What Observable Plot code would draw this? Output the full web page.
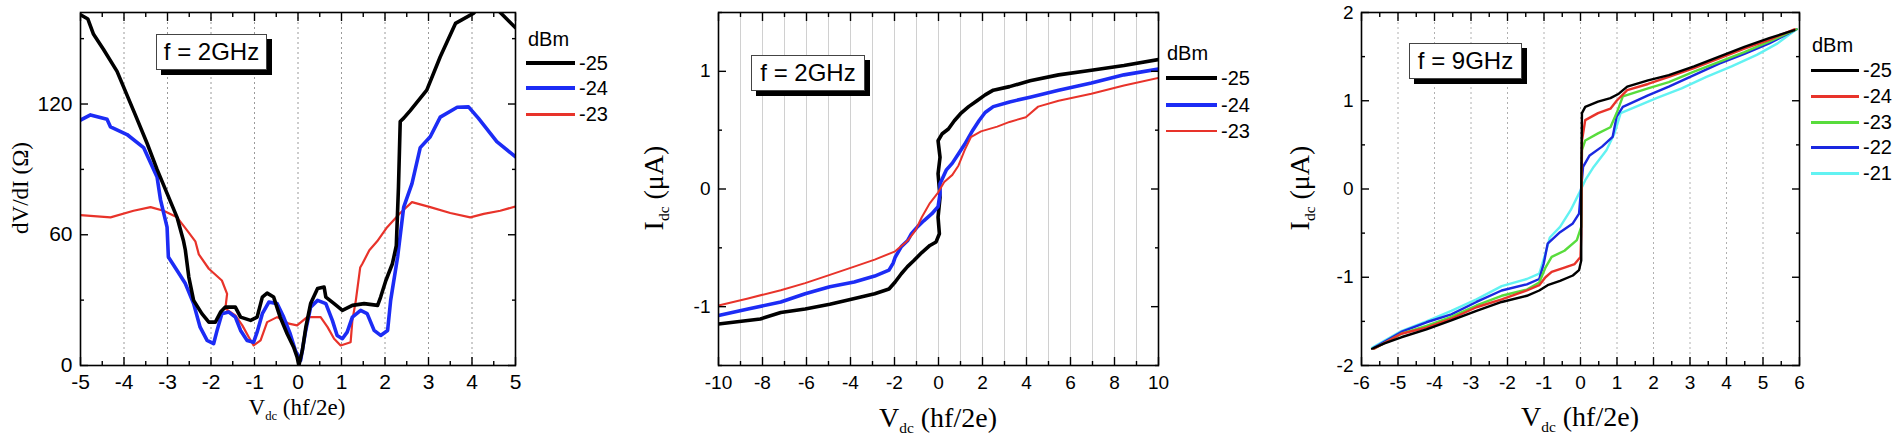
<!DOCTYPE html>
<html>
<head>
<meta charset="utf-8">
<script src="https://cdn.jsdelivr.net/npm/d3@7"></script>
<script src="https://cdn.jsdelivr.net/npm/@observablehq/plot@0.6"></script>
<style>
  body { margin: 0; background: white; }
  #chart { position: relative; width: 1904px; height: 448px; background: white; overflow: hidden; }
  #chart svg { position: absolute; top: 0; }
  .ov { position: absolute; white-space: nowrap; line-height: 1; color: #000; }
  .ttl { font-family: "Liberation Serif", "Times New Roman", serif; }
  .sub { font-size: 0.55em; position: relative; top: 0.42em; }
  .box { position: absolute; background: white; border: 1px solid #444; box-shadow: 5px 5px 0 #000;
         font-family: "Liberation Sans", Arial, sans-serif; font-size: 24px; display: flex;
         align-items: center; justify-content: center; box-sizing: border-box; }
  .lg { position: absolute; font-family: "Liberation Sans", Arial, sans-serif; font-size: 20px; line-height: 1; white-space: nowrap; }
  .lgline { position: absolute; }
</style>
</head>
<body>
<div id="chart"></div>
<script>
// ---------------- DATA ----------------
const seriesLabels3 = ["-25", "-24", "-23"];
const seriesLabels5 = ["-25", "-24", "-23", "-22", "-21"];

// Panel 1: dV/dI (Ohm) vs Vdc (hf/2e), f = 2GHz
const p1_m25 = [[-5,161],[-4.83,159],[-4.70,152],[-4.47,145],[-4.16,135],[-3.74,115],[-3.47,102],[-3.24,90],[-3.01,79],[-2.78,68],[-2.63,57],[-2.59,53],[-2.51,40.6],[-2.40,29.9],[-2.21,23.8],[-2.05,19.9],[-1.90,19.9],[-1.78,24.5],[-1.67,26.8],[-1.44,26.8],[-1.32,22.2],[-1.09,20.7],[-0.94,22.2],[-0.82,31.4],[-0.71,33.2],[-0.56,31.4],[-0.41,22.2],[-0.25,14.6],[-0.10,8.4],[-0.02,3.8],[0.02,0],[0.10,6.9],[0.18,17.6],[0.29,28.4],[0.45,35.3],[0.60,36],[0.64,31.4],[0.83,28.4],[1.02,25.3],[1.25,27.6],[1.52,28.4],[1.83,27.6],[1.90,31.4],[2.02,39],[2.17,46.7],[2.26,55],[2.31,82],[2.35,112],[2.43,113.5],[2.58,117],[2.96,126.4],[3.27,141.7],[3.62,157],[4.04,161.7],[4.4,170],[4.65,162],[5,155]];
const p1_m24 = [[-5,112.6],[-4.77,115],[-4.39,113],[-4.31,109.5],[-3.93,106],[-3.55,100],[-3.39,93],[-3.24,86.5],[-3.16,76],[-3.01,63.5],[-2.98,49.8],[-2.78,43.6],[-2.59,37.6],[-2.40,28.4],[-2.25,17.6],[-2.09,11.5],[-1.94,10],[-1.86,16.1],[-1.75,23.8],[-1.59,24.5],[-1.44,22.2],[-1.32,16.1],[-1.17,11.5],[-1.02,10.7],[-0.94,15.3],[-0.82,23.8],[-0.67,29.1],[-0.48,28.4],[-0.33,22.2],[-0.18,14.6],[-0.06,6.9],[0.06,2.3],[0.17,15.3],[0.29,26.8],[0.45,29.9],[0.64,28.4],[0.79,20.7],[0.90,13.8],[1.02,12.3],[1.13,15.3],[1.25,22.2],[1.44,25.3],[1.59,23.8],[1.75,16.1],[1.90,13.8],[2.06,16.1],[2.13,29.9],[2.29,49.8],[2.43,72.7],[2.62,83.5],[2.81,100],[3.04,105],[3.27,114],[3.66,118.5],[3.92,118.7],[4.15,113.4],[4.57,102.7],[5,95.8]];
const p1_m23 = [[-5,69],[-4.31,68],[-3.78,71],[-3.39,72.7],[-3.09,71],[-2.78,68],[-2.55,62],[-2.36,57],[-2.28,51],[-2.05,44.4],[-1.75,39],[-1.63,32.9],[-1.67,26.1],[-1.44,23],[-1.28,18.4],[-1.13,13],[-1.02,9.2],[-0.86,11.5],[-0.71,19.9],[-0.48,22.2],[-0.21,19.2],[-0.02,18.4],[0.21,22.2],[0.52,22.2],[0.68,17.6],[0.83,12.3],[0.98,9.2],[1.21,10.7],[1.25,20.7],[1.33,29.9],[1.43,45],[1.48,46.7],[1.64,52.9],[1.82,57],[2.05,63.5],[2.35,70],[2.62,75],[3.04,72.7],[3.50,70],[3.96,68],[4.27,69.6],[4.65,71],[5,73]];

// Panel 2: Idc (uA) vs Vdc (hf/2e), f = 2GHz
const p2_m25 = [[-10,-1.148],[-8.1,-1.105],[-7.17,-1.05],[-6.06,-1.02],[-4.94,-0.98],[-4.01,-0.94],[-2.9,-0.89],[-2.25,-0.85],[-1.97,-0.79],[-1.69,-0.72],[-1.41,-0.66],[-1.13,-0.61],[-0.76,-0.54],[-0.39,-0.48],[-0.11,-0.45],[0.04,-0.38],[-0.02,-0.24],[0.07,-0.07],[-0.02,0.13],[0.07,0.27],[-0.02,0.41],[0.17,0.47],[0.45,0.51],[0.72,0.58],[1.0,0.64],[1.37,0.70],[1.75,0.75],[2.12,0.80],[2.49,0.84],[3.23,0.87],[4.16,0.92],[5.46,0.97],[6.95,1.01],[8.43,1.05],[10,1.10]];
const p2_m24 = [[-10,-1.075],[-8.66,-1.02],[-7.17,-0.96],[-6.06,-0.89],[-4.94,-0.83],[-3.83,-0.79],[-2.9,-0.74],[-2.25,-0.69],[-2.06,-0.63],[-1.97,-0.58],[-1.69,-0.49],[-1.41,-0.44],[-1.23,-0.38],[-0.95,-0.32],[-0.67,-0.27],[-0.30,-0.21],[-0.02,-0.15],[0.07,-0.04],[0.07,0.045],[0.35,0.16],[0.63,0.22],[0.91,0.30],[1.19,0.38],[1.56,0.50],[1.84,0.58],[2.12,0.65],[2.49,0.70],[3.23,0.74],[4.16,0.78],[5.46,0.84],[6.95,0.90],[8.43,0.97],[10,1.02]];
const p2_m23 = [[-10,-0.99],[-8.66,-0.93],[-7.17,-0.86],[-6.06,-0.80],[-4.94,-0.73],[-3.83,-0.66],[-2.9,-0.60],[-1.97,-0.53],[-1.41,-0.44],[-1.04,-0.35],[-0.76,-0.24],[-0.39,-0.12],[-0.02,-0.03],[0.26,0.06],[0.63,0.12],[0.91,0.20],[1.19,0.33],[1.47,0.44],[1.93,0.49],[2.67,0.53],[3.23,0.57],[3.97,0.61],[4.53,0.70],[5.46,0.75],[6.95,0.81],[8.43,0.88],[10,0.945]];

// Panel 3: Idc (uA) vs Vdc (hf/2e), f = 9GHz
const p3_m25 = [[-5.71,-1.81],[-5.37,-1.75],[-4.91,-1.68],[-4.22,-1.59],[-3.54,-1.49],[-2.85,-1.38],[-2.16,-1.28],[-1.47,-1.21],[-1.13,-1.15],[-0.90,-1.09],[-0.56,-1.04],[-0.21,-0.98],[-0.04,-0.92],[0.02,-0.81],[0.02,0.02],[0.04,0.86],[0.13,0.93],[0.48,0.99],[0.82,1.03],[1.05,1.08],[1.28,1.16],[1.85,1.23],[2.42,1.29],[3.11,1.39],[3.80,1.50],[4.49,1.61],[5.17,1.71],[5.86,1.80]];
const p3_m24 = [[-5.66,-1.81],[-4.91,-1.64],[-4.22,-1.57],[-3.54,-1.47],[-2.85,-1.34],[-2.16,-1.25],[-1.47,-1.15],[-1.13,-1.09],[-0.96,-1.0],[-0.79,-0.94],[-0.44,-0.89],[-0.16,-0.85],[0,-0.77],[0.02,-0.51],[0.04,0.55],[0.13,0.78],[0.48,0.86],[0.82,0.91],[0.99,1.0],[1.28,1.12],[1.85,1.19],[2.42,1.27],[3.11,1.37],[3.80,1.48],[4.49,1.59],[5.17,1.69],[5.86,1.81]];
const p3_m23 = [[-5.66,-1.81],[-4.91,-1.64],[-4.22,-1.55],[-3.54,-1.45],[-2.85,-1.32],[-2.16,-1.21],[-1.47,-1.14],[-1.13,-1.06],[-0.96,-0.89],[-0.79,-0.77],[-0.44,-0.70],[-0.10,-0.58],[0.02,-0.43],[0.04,0.44],[0.13,0.55],[0.48,0.63],[0.82,0.70],[0.99,0.86],[1.16,1.05],[1.85,1.14],[2.42,1.21],[3.11,1.33],[3.80,1.44],[4.49,1.55],[5.17,1.67],[5.92,1.81]];
const p3_m22 = [[-5.66,-1.80],[-4.91,-1.62],[-4.22,-1.51],[-3.54,-1.42],[-2.85,-1.28],[-2.16,-1.15],[-1.47,-1.08],[-1.13,-1.02],[-1.01,-0.85],[-0.90,-0.62],[-0.56,-0.49],[-0.21,-0.39],[-0.04,-0.28],[0.02,0.02],[0.07,0.25],[0.25,0.38],[0.59,0.48],[0.88,0.59],[0.99,0.82],[1.16,0.93],[1.85,1.06],[2.42,1.16],[3.11,1.29],[3.80,1.42],[4.49,1.53],[5.17,1.65],[5.92,1.81]];
const p3_m21 = [[-5.71,-1.80],[-4.91,-1.61],[-4.22,-1.50],[-3.54,-1.38],[-2.85,-1.25],[-2.16,-1.10],[-1.47,-1.02],[-1.13,-0.96],[-0.96,-0.73],[-0.84,-0.55],[-0.56,-0.43],[-0.27,-0.24],[-0.04,-0.05],[0.13,0.10],[0.36,0.25],[0.71,0.44],[0.93,0.63],[1.10,0.86],[1.51,0.93],[2.08,1.03],[2.77,1.14],[3.45,1.27],[4.14,1.39],[4.83,1.52],[5.40,1.65],[5.92,1.81]];

// Tick values
const p1xMajor = [-5,-4,-3,-2,-1,0,1,2,3,4,5];
const p1xMinor = [-4.5,-3.5,-2.5,-1.5,-0.5,0.5,1.5,2.5,3.5,4.5];
const p1yMajor = [0,60,120];
const p1yMinor = [30,90,150];
const p1grid = [-4,-3,-2,-1,0,1,2,3,4];

const p2xMajor = [-10,-8,-6,-4,-2,0,2,4,6,8,10];
const p2xMinor = [-9,-7,-5,-3,-1,1,3,5,7,9];
const p2yMajor = [-1,0,1];
const p2yMinor = [-1.5,-0.5,0.5,1.5];
const p2grid = [-9,-8,-7,-6,-5,-4,-3,-2,-1,0,1,2,3,4,5,6,7,8,9];

const p3xMajor = [-6,-5,-4,-3,-2,-1,0,1,2,3,4,5,6];
const p3xMinor = [-5.5,-4.5,-3.5,-2.5,-1.5,-0.5,0.5,1.5,2.5,3.5,4.5,5.5];
const p3yMajor = [-2,-1,0,1,2];
const p3yMinor = [-1.5,-0.5,0.5,1.5];
const p3grid = [-5,-4,-3,-2,-1,0,1,2,3,4,5];

// Colors
const colBlack = "#000000";
const colBlue = "#1c2cf5";
const colRed = "#e8332a";
const colGreen = "#58dc3c";
const colCyan = "#62f2f2";
const colBlue3 = "#1a28e0";

// ---------------- DRAW ----------------
const chart = document.getElementById("chart");

function frameAxes(xMajor, xMinor, yMajor, yMinor, fontSize, padX, padY) {
  const tk = {stroke: "#000", strokeWidth: 1.4, fill: "none", label: null};
  return [
    Plot.axisX({...tk, ticks: xMajor, anchor: "bottom", tickSize: -8}),
    Plot.axisX({...tk, ticks: xMinor, anchor: "bottom", tickSize: -4}),
    Plot.axisX({...tk, ticks: xMajor, anchor: "top", tickSize: -8}),
    Plot.axisX({...tk, ticks: xMinor, anchor: "top", tickSize: -4}),
    Plot.axisY({...tk, ticks: yMajor, anchor: "left", tickSize: -8}),
    Plot.axisY({...tk, ticks: yMinor, anchor: "left", tickSize: -4}),
    Plot.axisY({...tk, ticks: yMajor, anchor: "right", tickSize: -8}),
    Plot.axisY({...tk, ticks: yMinor, anchor: "right", tickSize: -4}),
    Plot.axisX({ticks: xMajor, anchor: "bottom", tickSize: 0, tickPadding: padX, tickFormat: d => String(d), label: null, fill: "#000", fontSize}),
    Plot.axisY({ticks: yMajor, anchor: "left", tickSize: 0, tickPadding: padY, tickFormat: d => String(d), label: null, fill: "#000", fontSize}),
    Plot.frame({stroke: "#000", strokeWidth: 1.6})
  ];
}

function panel({left, width, mL, mR, xDomain, yDomain, grid, gridDash, gridColor, series, axes}) {
  const svg = Plot.plot({
    width, height: 448,
    marginLeft: mL, marginRight: mR, marginTop: 12, marginBottom: 83,
    x: {domain: xDomain},
    y: {domain: yDomain},
    style: {background: "transparent", fontFamily: "'Liberation Sans', Arial, sans-serif", color: "#000", overflow: "visible"},
    marks: [
      Plot.gridX({ticks: grid, stroke: gridColor, strokeOpacity: 1, strokeWidth: 1, strokeDasharray: gridDash}),
      ...series.map(s => Plot.line(s.data, {x: d => d[0], y: d => d[1], stroke: s.color, strokeWidth: s.w, clip: true, strokeLinejoin: "round"})),
      ...axes
    ]
  });
  svg.style.left = left + "px";
  chart.appendChild(svg);
}

panel({left: 0, width: 520, mL: 80, mR: 5, xDomain: [-5, 5], yDomain: [0, 162],
  grid: p1grid, gridDash: "2,3", gridColor: "#9a9a9a",
  series: [{data: p1_m23, color: colRed, w: 2.2}, {data: p1_m24, color: colBlue, w: 3.6}, {data: p1_m25, color: colBlack, w: 3.6}],
  axes: frameAxes(p1xMajor, p1xMinor, p1yMajor, p1yMinor, 21, 9, 8)});

panel({left: 630, width: 535, mL: 88, mR: 7, xDomain: [-10, 10], yDomain: [-1.5, 1.5],
  grid: p2grid, gridDash: null, gridColor: "#d0d0d0",
  series: [{data: p2_m25, color: colBlack, w: 3.6}, {data: p2_m24, color: colBlue, w: 3.6}, {data: p2_m23, color: colRed, w: 2}],
  axes: frameAxes(p2xMajor, p2xMinor, p2yMajor, p2yMinor, 19, 10, 8)});

panel({left: 1290, width: 515, mL: 71, mR: 6, xDomain: [-6, 6], yDomain: [-2, 2],
  grid: p3grid, gridDash: "2,3", gridColor: "#b0b0b0",
  series: [{data: p3_m21, color: colCyan, w: 2.4}, {data: p3_m22, color: colBlue3, w: 2.4}, {data: p3_m23, color: colGreen, w: 2.4}, {data: p3_m24, color: colRed, w: 2.4}, {data: p3_m25, color: colBlack, w: 2.4}],
  axes: frameAxes(p3xMajor, p3xMinor, p3yMajor, p3yMinor, 19, 10, 8)});

// ---------------- TEXT OVERLAYS ----------------
function addDiv(cls, html, css) {
  const d = document.createElement("div");
  d.className = cls;
  d.innerHTML = html;
  Object.assign(d.style, css);
  chart.appendChild(d);
  return d;
}
// axis titles
addDiv("ov ttl", 'V<span class="sub">dc</span> (hf/2e)', {left: "297px", top: "407px", fontSize: "23px", transform: "translate(-50%,-50%)"});
addDiv("ov ttl", 'dV/dI (&Omega;)', {left: "20px", top: "188px", fontSize: "23px", transform: "translate(-50%,-50%) rotate(-90deg)"});
addDiv("ov ttl", 'V<span class="sub">dc</span> (hf/2e)', {left: "938px", top: "418px", fontSize: "28px", transform: "translate(-50%,-50%)"});
addDiv("ov ttl", 'I<span class="sub">dc</span> (&mu;A)', {left: "654px", top: "188px", fontSize: "28px", transform: "translate(-50%,-50%) rotate(-90deg)"});
addDiv("ov ttl", 'V<span class="sub">dc</span> (hf/2e)', {left: "1580px", top: "417px", fontSize: "28px", transform: "translate(-50%,-50%)"});
addDiv("ov ttl", 'I<span class="sub">dc</span> (&mu;A)', {left: "1300px", top: "188px", fontSize: "28px", transform: "translate(-50%,-50%) rotate(-90deg)"});

// frequency boxes
addDiv("box", "f = 2GHz", {left: "156px", top: "34px", width: "111px", height: "36px"});
addDiv("box", "f = 2GHz", {left: "751px", top: "55px", width: "114px", height: "36px"});
addDiv("box", "f = 9GHz", {left: "1409px", top: "43px", width: "113px", height: "36px"});

// legends
function legend(x0, titleY, lineX, lineW, ys, labels, colors, widths) {
  addDiv("lg", "dBm", {left: x0 + "px", top: (titleY - 10) + "px"});
  ys.forEach((y, i) => {
    addDiv("lgline", "", {left: lineX + "px", top: (y - widths[i] / 2) + "px", width: lineW + "px", height: widths[i] + "px", background: colors[i]});
    addDiv("lg", labels[i], {left: (lineX + lineW + 4) + "px", top: (y - 10) + "px"});
  });
}
legend(528, 39, 526, 49, [63, 88, 114], seriesLabels3, [colBlack, colBlue, colRed], [4.5, 4.5, 3]);
legend(1167, 53, 1166, 51, [78, 105, 131], seriesLabels3, [colBlack, colBlue, colRed], [4.5, 4.5, 2.5]);
legend(1812, 45, 1811, 48, [70, 96, 122, 147, 173], seriesLabels5, [colBlack, colRed, colGreen, colBlue3, colCyan], [3, 3, 3, 3, 3]);
</script>
</body>
</html>
